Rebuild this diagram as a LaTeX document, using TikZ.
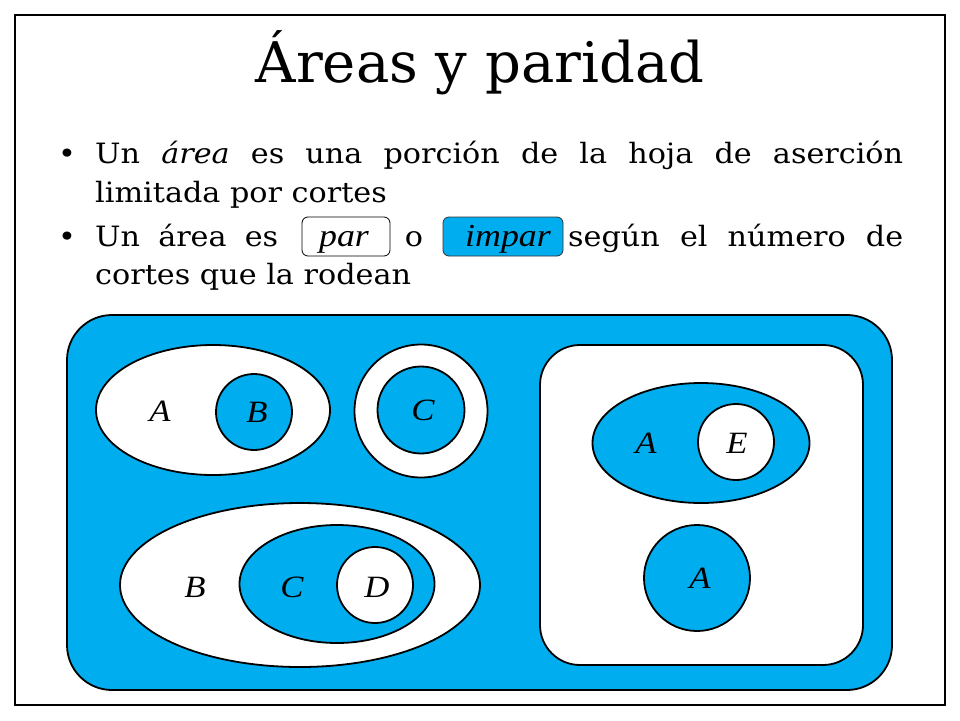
\documentclass[tikz,border=0pt]{standalone}
\usepackage{fontspec}
\setmainfont{DejaVu Serif}
\newfontfamily\bodyfont[FakeStretch=1.08]{DejaVu Serif}
\newfontfamily\lblfont[FakeStretch=1.12]{Liberation Serif}
\usetikzlibrary{shapes.geometric}
\definecolor{cutblue}{RGB}{0,174,239}
\begin{document}
\begin{tikzpicture}[x=1pt,y=-1pt,
  body/.style={inner sep=0pt, font=\bodyfont\fontsize{28}{37}\selectfont},
  lbl/.style={inner sep=0pt, font=\lblfont\itshape\fontsize{31}{31}\selectfont},
  boxlbl/.style={inner sep=0pt, font=\lblfont\itshape\fontsize{32}{32}\selectfont},
  cut/.style={draw=black, line width=1.8pt},
  blue/.style={cut, fill=cutblue},
  white/.style={cut, fill=white},
  oval/.style={ellipse, inner sep=0pt},
  ring/.style={circle, inner sep=0pt}]
\useasboundingbox (0,0) rectangle (960,720);
\fill[white] (-10,-10) rectangle (970,730);
\node[draw=black, line width=1.5pt, minimum width=930pt, minimum height=690pt, inner sep=0pt] (frame) at (480,360) {};
% title
\node[inner sep=0pt, anchor=base, font=\fontsize{56}{60}\selectfont] (title) at (480,82) {Áreas y paridad};
% bullets
\node[body, anchor=base west] (b1) at (58,163) {•};
\node[body, anchor=base west] (l1) at (95,163) {\makebox[808pt][s]{Un \textit{área} es una porción de la hoja de aserción}};
\node[body, anchor=base west] (l2) at (95,202) {limitada por cortes};
\node[body, anchor=base west] (b2) at (58,246) {•};
\node[body, anchor=base west] (l3a) at (95,246) {\makebox[183pt][s]{Un área es}};
\node[draw=black, line width=0.8pt, rounded corners=6pt, fill=white, minimum width=88pt, minimum height=39pt, inner sep=0pt] (par) at (346,236.5) {};
\node[boxlbl, anchor=base] (partxt) at (344,246) {par};
\node[body, anchor=base] (o) at (414,246) {o};
\node[draw=black!80, line width=0.8pt, rounded corners=6pt, fill=cutblue, minimum width=120pt, minimum height=39pt, inner sep=0pt] (impar) at (503,236.5) {};
\node[boxlbl, anchor=base] (impartxt) at (508,246) {impar};
\node[body, anchor=base west] (l3b) at (568,246) {\makebox[335pt][s]{según el número de}};
\node[body, anchor=base west] (l4) at (95,284) {cortes que la rodean};
% sheet
\node[blue, rounded corners=45pt, minimum width=825pt, minimum height=375pt, inner sep=0pt] (sheet) at (479.5,502.5) {};
% top-left group
\node[white, oval, minimum width=234pt, minimum height=130pt] (e1) at (213,410) {};
\node[blue, ring, minimum size=76pt] (cB) at (254,412) {};
\node[lbl] (tA1) at (160,411) {A};
\node[lbl] (tB1) at (257,412) {B};
% ring C
\node[white, ring, minimum size=133pt] (c1) at (421,411) {};
\node[blue, ring, minimum size=87pt] (cC) at (421,410) {};
\node[lbl] (tC1) at (423,410) {C};
% bottom-left group
\node[white, oval, minimum width=360pt, minimum height=164pt] (e2) at (300,585) {};
\node[blue, oval, minimum width=195pt, minimum height=118pt] (e3) at (337,584) {};
\node[white, ring, minimum size=76pt] (cD) at (375,585) {};
\node[lbl] (tB2) at (195,587) {B};
\node[lbl] (tC2) at (292,587) {C};
\node[lbl] (tD) at (377,587) {D};
% right box
\node[white, rounded corners=40pt, minimum width=323pt, minimum height=320pt, inner sep=0pt] (rbox) at (701.5,505) {};
\node[blue, oval, minimum width=217pt, minimum height=120pt] (e4) at (701,443) {};
\node[white, ring, minimum size=76pt] (cE) at (736,442) {};
\node[lbl] (tA2) at (646,443) {A};
\node[lbl] (tE) at (737,443) {E};
\node[blue, ring, minimum size=106pt] (cA) at (697,578) {};
\node[lbl] (tA3) at (700,578) {A};
\end{tikzpicture}
\end{document}
